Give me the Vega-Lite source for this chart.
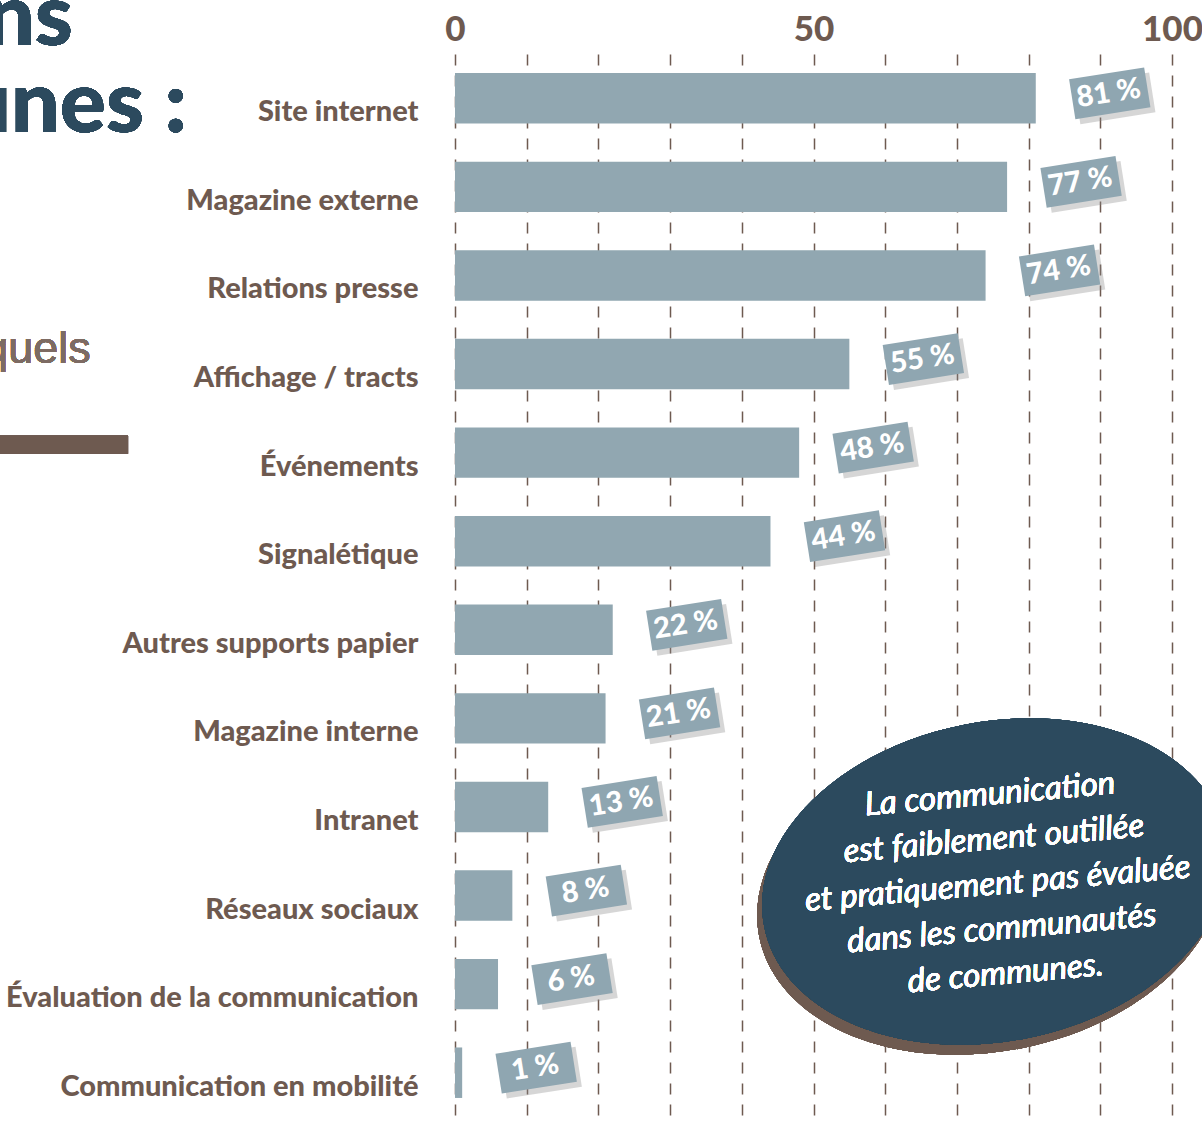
{
  "$schema": "https://vega.github.io/schema/vega-lite/v6.json",
  "autosize": {"type": "none"},
  "padding": {"left": 455, "top": 54, "right": 30, "bottom": 13},
  "width": 717,
  "height": 1063,
  "background": "white",
  "config": {"view": {"stroke": null}},
  "data": {"values": [
    {"cat": "Site internet", "value": 81, "label": "81 %"},
    {"cat": "Magazine externe", "value": 77, "label": "77 %"},
    {"cat": "Relations presse", "value": 74, "label": "74 %"},
    {"cat": "Affichage / tracts", "value": 55, "label": "55 %"},
    {"cat": "Événements", "value": 48, "label": "48 %"},
    {"cat": "Signalétique", "value": 44, "label": "44 %"},
    {"cat": "Autres supports papier", "value": 22, "label": "22 %"},
    {"cat": "Magazine interne", "value": 21, "label": "21 %"},
    {"cat": "Intranet", "value": 13, "label": "13 %"},
    {"cat": "Réseaux sociaux", "value": 8, "label": "8 %"},
    {"cat": "Évaluation de la communication", "value": 6, "label": "6 %"},
    {"cat": "Communication en mobilité", "value": 1, "label": "1 %"}
  ]},
  "layer": [
    {
      "mark": {"type": "bar", "color": "#91a7b1"},
      "encoding": {
        "x": {"field": "value", "type": "quantitative", "title": null,
          "scale": {"domain": [0, 100], "nice": false},
          "axis": {"orient": "top", "values": [0,10,20,30,40,50,60,70,80,90,100],
            "labelExpr": "datum.value % 50 === 0 ? datum.label : ''",
            "labelFlush": false, "labelOverlap": false,
            "grid": true, "gridDash": [11, 10], "gridColor": "#6e5a50", "gridWidth": 1.5, "gridOpacity": 1,
            "domain": false, "ticks": false, "labelPadding": 7,
            "labelFont": "Lato, Roboto, sans-serif",
            "labelFontSize": 35, "labelFontWeight": 900, "labelColor": "#6e5a50"}},
        "y": {"field": "cat", "type": "nominal", "title": null,
          "scale": {"domain": ["Site internet","Magazine externe","Relations presse","Affichage / tracts","Événements","Signalétique","Autres supports papier","Magazine interne","Intranet","Réseaux sociaux","Évaluation de la communication","Communication en mobilité"],
            "paddingInner": 0.43, "paddingOuter": 0.215},
          "axis": {"domain": false, "ticks": false, "grid": false, "labelPadding": 37, "labelOffset": 14,
            "labelFont": "Lato, Roboto, sans-serif",
            "labelFontSize": 29, "labelFontWeight": 900, "labelColor": "#6e5a50", "labelLimit": 0}}
      }
    },
    {
      "mark": {"type": "point", "shape": "M-1,-0.53L1,-0.53L1,0.53L-1,0.53Z", "filled": true, "size": 5776,
        "angle": -9, "color": "#8a8a8a", "opacity": 0.35, "xOffset": 79, "yOffset": 0},
      "encoding": {
        "x": {"field": "value", "type": "quantitative", "title": null},
        "y": {"field": "cat", "type": "nominal", "title": null}
      }
    },
    {
      "mark": {"type": "point", "shape": "M-1,-0.53L1,-0.53L1,0.53L-1,0.53Z", "filled": true, "size": 5776,
        "angle": -9, "color": "#8fa6b1", "opacity": 1, "xOffset": 74, "yOffset": -5},
      "encoding": {
        "x": {"field": "value", "type": "quantitative", "title": null},
        "y": {"field": "cat", "type": "nominal", "title": null}
      }
    },
    {
      "mark": {"type": "text", "color": "white", "angle": -9, "align": "center", "baseline": "middle",
        "font": "Lato, Roboto, sans-serif",
        "fontSize": 29, "fontWeight": 900, "xOffset": 73, "yOffset": -5},
      "encoding": {
        "x": {"field": "value", "type": "quantitative", "title": null},
        "y": {"field": "cat", "type": "nominal", "title": null},
        "text": {"field": "label"}
      }
    },
    {
      "mark": {"type": "text", "text": "dans", "color": "#2c4a5e", "align": "right", "baseline": "alphabetic",
        "font": "Lato, Roboto, sans-serif",
        "fontSize": 86, "fontWeight": 900, "yOffset": -53},
      "encoding": {
        "x": {"datum": -53.3, "type": "quantitative", "title": null},
        "y": {"datum": "Site internet", "type": "nominal", "title": null}
      }
    },
    {
      "mark": {"type": "text", "text": "communes :", "color": "#2c4a5e", "align": "right", "baseline": "alphabetic",
        "font": "Lato, Roboto, sans-serif",
        "fontSize": 86, "fontWeight": 900, "yOffset": 34},
      "encoding": {
        "x": {"datum": -37.4, "type": "quantitative", "title": null},
        "y": {"datum": "Site internet", "type": "nominal", "title": null}
      }
    },
    {
      "mark": {"type": "text", "text": "lesquels", "color": "#7d6b63", "align": "right", "baseline": "alphabetic",
        "font": "Liberation Sans, Roboto, sans-serif", "fontSize": 45, "fontWeight": "normal", "yOffset": -1},
      "encoding": {
        "x": {"datum": -50.8, "type": "quantitative", "title": null},
        "y": {"datum": "Affichage / tracts", "type": "nominal", "title": null}
      }
    },
    {
      "mark": {"type": "rule", "color": "#6e5a50", "strokeWidth": 18, "strokeCap": "butt", "yOffset": -8},
      "encoding": {
        "x": {"datum": -70, "type": "quantitative", "title": null},
        "x2": {"datum": -45.6},
        "y": {"datum": "Événements", "type": "nominal", "title": null}
      }
    },
    {
      "mark": {"type": "point", "shape": "M-1,0A1,0.68 0 1,1 1,0A1,0.68 0 1,1 -1,0Z", "filled": true, "size": 220900,
        "angle": -11, "color": "#6e5a50", "opacity": 1, "xOffset": -5, "yOffset": -4},
      "encoding": {
        "x": {"datum": 75.3, "type": "quantitative", "title": null},
        "y": {"datum": "Réseaux sociaux", "type": "nominal", "title": null}
      }
    },
    {
      "mark": {"type": "point", "shape": "M-1,0A1,0.68 0 1,1 1,0A1,0.68 0 1,1 -1,0Z", "filled": true, "size": 220900,
        "angle": -11, "color": "#2c4a5e", "opacity": 1, "yOffset": -14},
      "encoding": {
        "x": {"datum": 75.3, "type": "quantitative", "title": null},
        "y": {"datum": "Réseaux sociaux", "type": "nominal", "title": null}
      }
    },
    {
      "mark": {"type": "text", "text": ["La communication", "est faiblement outillée", "et pratiquement pas évaluée", "dans les communautés", "de communes."],
        "color": "white", "align": "center", "baseline": "middle", "angle": -5, "lineHeight": 45,
        "font": "Lato, Roboto, sans-serif",
        "fontSize": 33, "fontStyle": "italic", "yOffset": -101},
      "encoding": {
        "x": {"datum": 74.6, "type": "quantitative", "title": null},
        "y": {"datum": "Réseaux sociaux", "type": "nominal", "title": null}
      }
    }
  ]
}
